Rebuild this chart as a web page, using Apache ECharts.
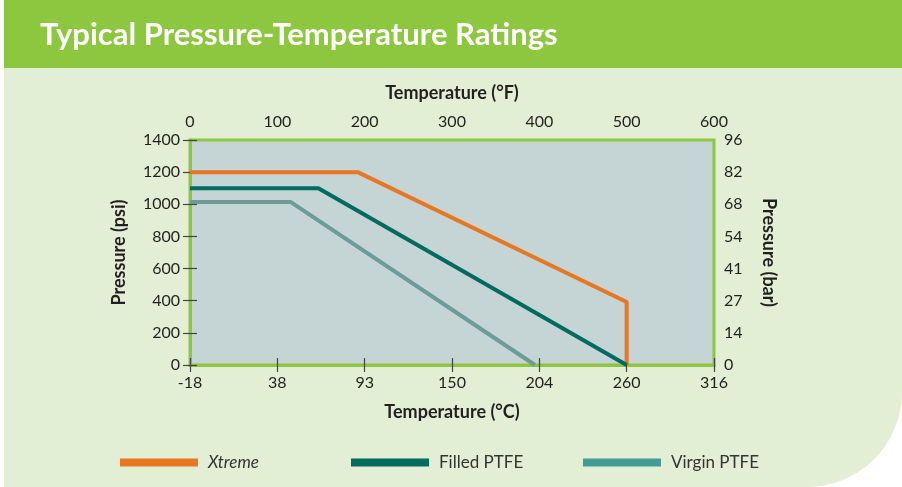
<!DOCTYPE html>
<html>
<head>
    <meta charset="UTF-8">
    <title>Typical Pressure-Temperature Ratings</title>
    <script type="text/javascript" src="https://cdn.jsdelivr.net/npm/echarts@6/dist/echarts.min.js"></script>
    <style>
    body, html {
        margin: 0;
        padding: 0;
        width: 100%;
        height: 100%;
        background: #ffffff;
    }
    #chart {
        width: 902px;
        height: 487px;
    }
    </style>
</head>
<body>
    <div id="chart"></div>
    <script>
    // data (x in °F, y in psi)
    var xtremeTemp = [0, 192, 500, 500];
    var xtremePsi = [1200, 1200, 392, 0];
    var filledTemp = [0, 147, 500];
    var filledPsi = [1100, 1100, 0];
    var virginTemp = [0, 115, 395];
    var virginPsi = [1015, 1015, 0];

    var fahrenheitTicks = ['0', '100', '200', '300', '400', '500', '600'];
    var celsiusTicks = ['-18', '38', '93', '150', '204', '260', '316'];
    var psiTicks = ['0', '200', '400', '600', '800', '1000', '1200', '1400'];
    var barTicks = ['0', '14', '27', '41', '54', '68', '82', '96'];

    var seriesNames = ['Xtreme', 'Filled PTFE', 'Virgin PTFE'];

    function pairs(xs, ys) {
        var out = [];
        for (var i = 0; i < xs.length; i++) {
            out.push([xs[i], ys[i]]);
        }
        return out;
    }

    var font = 'Lato, "Open Sans", sans-serif';
    var green = '#8dc63f';
    var tickStyle = { show: true, length: 7, lineStyle: { color: '#444', width: 1.2 } };
    var lineAxis = { show: true, lineStyle: { color: green, width: 3 } };
    var labelStyle = { color: '#231f20', fontSize: 16, fontFamily: font };
    var nameStyle = { color: '#231f20', fontSize: 18, fontWeight: 'bold', fontFamily: font };
    var legendText = { color: '#333', fontSize: 17, fontFamily: font, padding: [0, 0, 0, 5] };

    var chart = echarts.init(document.getElementById('chart'));
    var option = {
        animation: false,
        graphic: [{
            type: 'rect',
            z: -10,
            silent: true,
            shape: { x: 4, y: 0, width: 898, height: 487, r: [0, 0, 95, 0] },
            style: { fill: '#e2efd4' }
        }, {
            type: 'rect',
            z: -9,
            silent: true,
            shape: { x: 4, y: 0, width: 898, height: 68 },
            style: { fill: green }
        }, {
            type: 'text',
            z: 10,
            left: 40,
            top: 19,
            style: {
                text: 'Typical Pressure-Temperature Ratings',
                fill: '#ffffff',
                font: 'bold 31px ' + font
            }
        }],
        legend: [{
            left: 115, top: 449, icon: 'rect', itemWidth: 78, itemHeight: 8,
            data: [seriesNames[0]],
            textStyle: Object.assign({}, legendText, { fontStyle: 'italic' })
        }, {
            left: 346, top: 449, icon: 'rect', itemWidth: 78, itemHeight: 8,
            data: [seriesNames[1]],
            textStyle: legendText
        }, {
            left: 578, top: 449, icon: 'rect', itemWidth: 78, itemHeight: 8,
            data: [{ name: seriesNames[2], itemStyle: { color: '#459b96' } }],
            textStyle: legendText
        }],
        grid: {
            left: 190,
            right: 188,
            top: 140,
            bottom: 122,
            show: true,
            backgroundColor: '#c5d5d5',
            borderColor: green,
            borderWidth: 3
        },
        xAxis: [{
            type: 'value',
            position: 'bottom',
            min: 0, max: 600, interval: 100,
            name: 'Temperature (°C)',
            nameLocation: 'middle',
            nameGap: 38,
            nameTextStyle: nameStyle,
            axisLine: lineAxis,
            axisTick: tickStyle,
            splitLine: { show: false },
            axisLabel: Object.assign({ margin: 10, formatter: function (v) { return celsiusTicks[v / 100]; } }, labelStyle)
        }, {
            type: 'value',
            position: 'top',
            min: 0, max: 600, interval: 100,
            name: 'Temperature (°F)',
            nameLocation: 'middle',
            nameGap: 38,
            nameTextStyle: nameStyle,
            axisLine: lineAxis,
            axisTick: tickStyle,
            splitLine: { show: false },
            axisLabel: Object.assign({ margin: 10, formatter: function (v) { return fahrenheitTicks[v / 100]; } }, labelStyle)
        }],
        yAxis: [{
            type: 'value',
            position: 'left',
            min: 0, max: 1400, interval: 200,
            name: 'Pressure (psi)',
            nameLocation: 'middle',
            nameRotate: 90,
            nameGap: 62,
            nameTextStyle: nameStyle,
            axisLine: lineAxis,
            axisTick: tickStyle,
            splitLine: { show: false },
            axisLabel: Object.assign({ margin: 10, formatter: function (v) { return psiTicks[v / 200]; } }, labelStyle)
        }, {
            type: 'value',
            position: 'right',
            min: 0, max: 1400, interval: 200,
            name: 'Pressure (bar)',
            nameLocation: 'middle',
            nameRotate: -90,
            nameGap: 46,
            nameTextStyle: nameStyle,
            axisLine: lineAxis,
            axisTick: tickStyle,
            splitLine: { show: false },
            axisLabel: Object.assign({ margin: 10, formatter: function (v) { return barTicks[v / 200]; } }, labelStyle)
        }],
        series: [{
            name: seriesNames[0],
            type: 'line',
            data: pairs(xtremeTemp, xtremePsi),
            symbol: 'none',
            color: '#e87722',
            lineStyle: { width: 4, color: '#e87722' }
        }, {
            name: seriesNames[1],
            type: 'line',
            data: pairs(filledTemp, filledPsi),
            symbol: 'none',
            color: '#006b5f',
            lineStyle: { width: 4, color: '#006b5f' }
        }, {
            name: seriesNames[2],
            type: 'line',
            data: pairs(virginTemp, virginPsi),
            symbol: 'none',
            color: '#6e9b97',
            lineStyle: { width: 4, color: '#6e9b97' }
        }]
    };
    chart.setOption(option);
    </script>
</body>
</html>
